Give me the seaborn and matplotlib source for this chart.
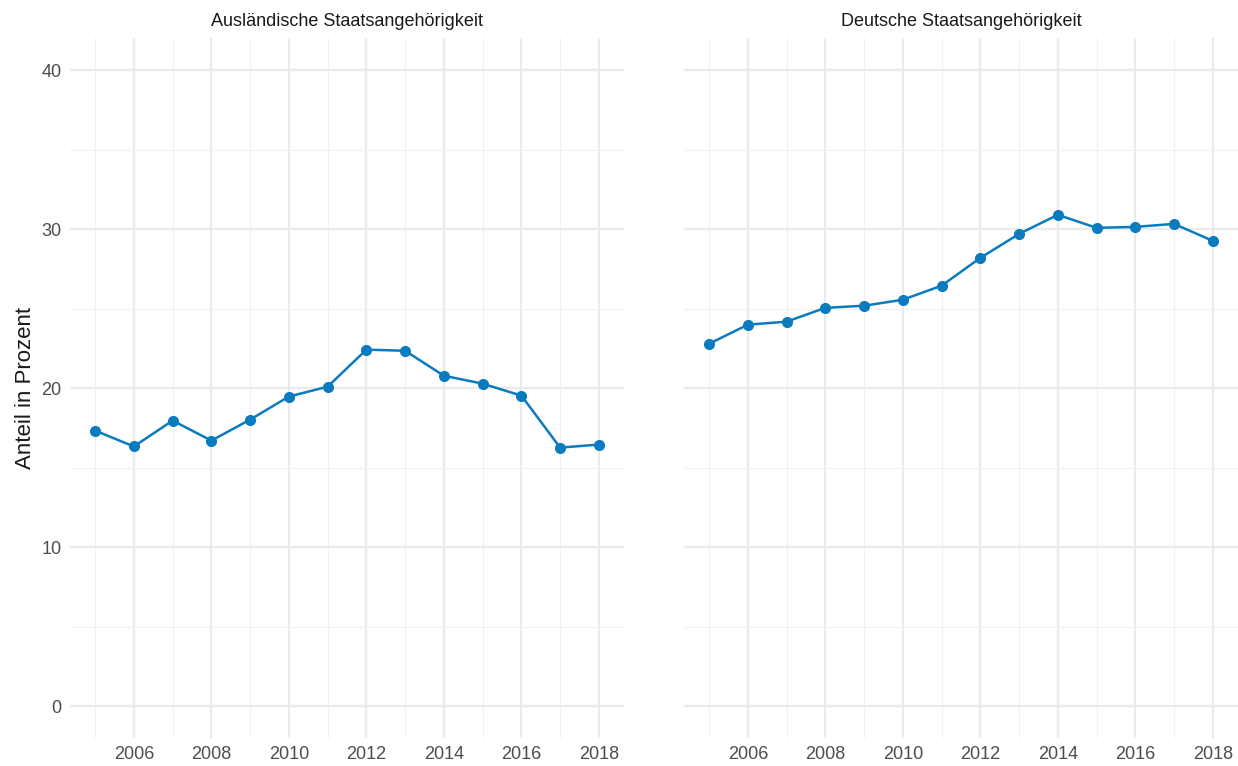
import numpy as np
import pandas as pd
import matplotlib
matplotlib.use("Agg")
import matplotlib.pyplot as plt
import seaborn as sns
from matplotlib.ticker import MultipleLocator

years = list(range(2005, 2019))
auslaendisch = [17.33, 16.33, 17.96, 16.70, 18.02, 19.47, 20.09, 22.42, 22.35, 20.78, 20.28, 19.53, 16.26, 16.45]
deutsch = [22.79, 23.99, 24.18, 25.05, 25.18, 25.56, 26.44, 28.19, 29.70, 30.90, 30.08, 30.14, 30.33, 29.26]
panels = ["Ausländische Staatsangehörigkeit", "Deutsche Staatsangehörigkeit"]

df = pd.DataFrame({
    "jahr": years * 2,
    "anteil": auslaendisch + deutsch,
    "gruppe": [panels[0]] * len(years) + [panels[1]] * len(years),
})

sns.set_theme(style="white")
plt.rcParams["font.family"] = ["Liberation Sans", "DejaVu Sans"]

line_color = "#0A7BBF"

g = sns.relplot(data=df, x="jahr", y="anteil", col="gruppe", kind="line",
                marker="o", markersize=8, markeredgewidth=0, color=line_color,
                linewidth=1.8, height=7.66, aspect=12.38 / 7.66 / 2,
                facet_kws={"sharey": True, "sharex": True})
g.figure.set_size_inches(12.38, 7.66)
g.figure.subplots_adjust(left=0.0565, right=1.0, top=0.950, bottom=0.0366, wspace=0.108)

for ax, title in zip(g.axes.flat, panels):
    ax.set_title(title, fontsize=13, color="#1a1a1a", pad=9)
    ax.set_xlim(2004.35, 2018.65)
    ax.set_ylim(-2, 42)
    ax.xaxis.set_major_locator(MultipleLocator(2))
    ax.xaxis.set_minor_locator(MultipleLocator(1))
    ax.yaxis.set_major_locator(MultipleLocator(10))
    ax.yaxis.set_minor_locator(MultipleLocator(5))
    ax.grid(which="major", color="#EBEBEB", linewidth=1.6)
    ax.grid(which="minor", color="#F0F0F0", linewidth=0.8)
    ax.set_axisbelow(True)
    ax.tick_params(which="both", length=0, labelsize=13, labelcolor="#4d4d4d", pad=6)
    ax.set_xlabel("")
    for s in ax.spines.values():
        s.set_visible(False)

g.axes.flat[0].set_ylabel("Anteil in Prozent", fontsize=16, color="#1a1a1a", labelpad=4)
g.axes.flat[1].set_ylabel("")
g.axes.flat[1].tick_params(axis="y", labelleft=False)

g.figure.savefig("out.png", dpi=100)
